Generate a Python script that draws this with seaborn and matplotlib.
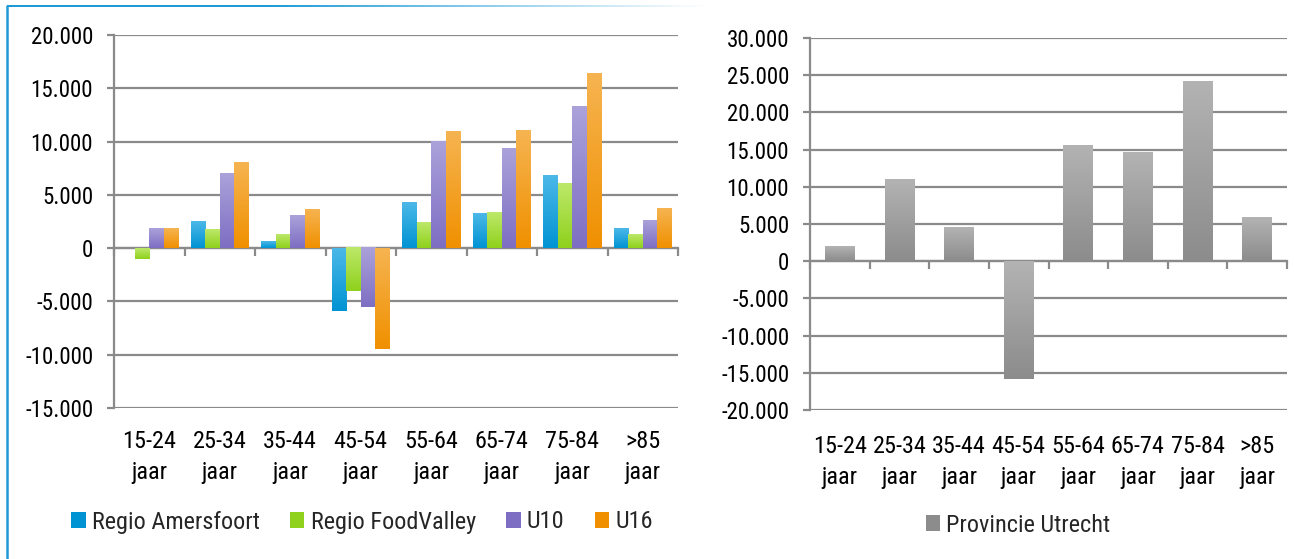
import numpy as np
import pandas as pd
import matplotlib
matplotlib.use("Agg")
import matplotlib.pyplot as plt
import seaborn as sns
from matplotlib.colors import LinearSegmentedColormap
from matplotlib.patches import Patch
from matplotlib.ticker import FuncFormatter, FixedLocator, NullFormatter

# Age groups on the x axis
age_groups = ["15-24\njaar", "25-34\njaar", "35-44\njaar", "45-54\njaar",
              "55-64\njaar", "65-74\njaar", "75-84\njaar", ">85\njaar"]

# Change in number of households per age group
regions = ["Regio Amersfoort", "Regio FoodValley", "U10", "U16"]
regio_amersfoort = [0, 2500, 600, -5900, 4300, 3250, 6800, 1850]
regio_foodvalley = [-1000, 1700, 1300, -4050, 2400, 3300, 6050, 1300]
u10 = [1800, 7000, 3050, -5550, 10000, 9300, 13300, 2600]
u16 = [1800, 8050, 3650, -9450, 10900, 11000, 16350, 3750]

province_label = "Provincie Utrecht"
provincie_utrecht = [1900, 11000, 4550, -15850, 15550, 14650, 24100, 5900]

# (light top, dark bottom) per series
shades = {
    "Regio Amersfoort": ("#4cb8e8", "#0093d3"),
    "Regio FoodValley": ("#bde86a", "#8fd11c"),
    "U10": ("#aba2da", "#7e6ec3"),
    "U16": ("#f6b451", "#f09000"),
    province_label: ("#b3b3b3", "#8c8c8c"),
}
grid_col = "#8a8a8a"

sns.set_theme(style="white")
plt.rcParams["font.family"] = ["Roboto Condensed", "DejaVu Sans"]
plt.rcParams["font.size"] = 17

left_df = pd.DataFrame({
    "age": age_groups * len(regions),
    "region": np.repeat(regions, len(age_groups)),
    "value": regio_amersfoort + regio_foodvalley + u10 + u16,
})
right_df = pd.DataFrame({"age": age_groups, "region": province_label,
                         "value": provincie_utrecht})

fig = plt.figure(figsize=(12.94, 5.59), dpi=100)
W, H = 1294, 559


def box(x0, x1, ytop, ybot):
    return [x0 / W, 1 - ybot / H, (x1 - x0) / W, (ybot - ytop) / H]


ax1 = fig.add_axes(box(114, 678, 35, 408))
ax2 = fig.add_axes(box(810, 1287, 38, 410))


def shade(ax, names):
    xl, yl = ax.get_xlim(), ax.get_ylim()
    grad = np.linspace(0, 1, 128).reshape(-1, 1)
    for container, name in zip(ax.containers, names):
        top, bottom = shades[name]
        cmap = LinearSegmentedColormap.from_list(name, [bottom, top])
        for p in container.patches:
            h = p.get_height()
            if h == 0:
                p.set_visible(False)
                continue
            y0 = p.get_y()
            lo, hi = min(y0, y0 + h), max(y0, y0 + h)
            ax.imshow(grad, extent=(p.get_x(), p.get_x() + p.get_width(), lo, hi),
                      origin="lower", cmap=cmap, aspect="auto", zorder=3,
                      interpolation="bilinear")
            p.set_visible(False)
    ax.set_xlim(xl)
    ax.set_ylim(yl)


def style(ax, lo, hi, xpad):
    ax.set_xlim(-0.5, len(age_groups) - 0.5)
    ax.set_ylim(lo, hi)
    ax.yaxis.set_major_locator(FixedLocator(np.arange(lo, hi + 1, 5000)))
    ax.yaxis.set_major_formatter(
        FuncFormatter(lambda v, _: f"{int(v):,}".replace(",", ".")))
    ax.grid(axis="y", color=grid_col, linewidth=1.6, zorder=0)
    ax.set_axisbelow(True)
    for s in ["top", "right", "bottom"]:
        ax.spines[s].set_visible(False)
    ax.spines["left"].set_color(grid_col)
    ax.spines["left"].set_linewidth(1.6)
    ax.tick_params(axis="y", which="major", left=True, length=5, width=1.6,
                   color=grid_col, pad=10, labelsize=16.5, labelcolor="black")
    ax.tick_params(axis="x", which="major", bottom=False, length=0, pad=xpad,
                   labelsize=17.5, labelcolor="black")
    for t in ax.get_xticklabels():
        t.set_linespacing(1.42)
    ax.set_xlabel("")
    ax.set_ylabel("")
    # zero line with separators between the age groups
    zero = ax.secondary_xaxis(0, transform=ax.transData)
    zero.spines["bottom"].set_color(grid_col)
    zero.spines["bottom"].set_linewidth(1.6)
    zero.xaxis.set_major_locator(FixedLocator(np.arange(-0.5, len(age_groups), 1.0)))
    zero.xaxis.set_major_formatter(NullFormatter())
    zero.tick_params(axis="x", direction="out", length=5.5, width=1.6, color=grid_col)


sns.barplot(data=left_df, x="age", y="value", hue="region", hue_order=regions,
            palette=[shades[r][1] for r in regions], width=0.82, ax=ax1,
            legend=False, errorbar=None)
style(ax1, -15000, 20000, 16)
shade(ax1, regions)

sns.barplot(data=right_df, x="age", y="value", hue="region",
            palette=[shades[province_label][1]], width=0.5, ax=ax2,
            legend=False, errorbar=None)
style(ax2, -20000, 30000, 18)
shade(ax2, [province_label])

# legends
handles = [Patch(facecolor=shades[r][1], edgecolor="none") for r in regions]
fig.legend(handles, regions, loc="center", bbox_to_anchor=(362 / W, 1 - 522 / H),
           ncol=4, frameon=False, fontsize=17.5, handlelength=0.6, handleheight=0.6,
           handletextpad=0.25, columnspacing=1.25)
fig.legend([Patch(facecolor=shades[province_label][1], edgecolor="none")],
           [province_label], loc="center", bbox_to_anchor=(1018 / W, 1 - 525 / H),
           frameon=False, fontsize=17.5, handlelength=0.6, handleheight=0.6,
           handletextpad=0.25)

# blue frame along the left and top of the first panel
frame_col = "#1e9bd7"
fig.add_artist(plt.Line2D([7 / W, 7 / W], [0, 1 - 6 / H], color=frame_col,
                          linewidth=1.8, transform=fig.transFigure))
strip = fig.add_axes([7 / W, 1 - 7.5 / H, 700 / W, 3 / H])
fade = np.ones((1, 256, 4))
fade[..., 0], fade[..., 1], fade[..., 2] = 0x1e / 255, 0x9b / 255, 0xd7 / 255
fade[..., 3] = np.clip(np.linspace(1.6, 0, 256), 0, 1)
strip.imshow(fade, aspect="auto", extent=(0, 1, 0, 1))
strip.set_axis_off()

fig.savefig("out.png", dpi=100)
